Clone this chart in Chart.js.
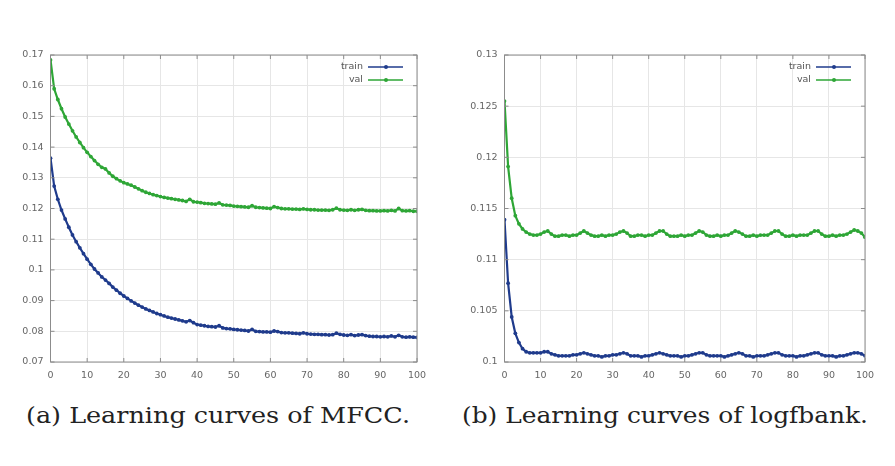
<!DOCTYPE html>
<html>
<head>
<meta charset="utf-8">
<script src="https://cdn.jsdelivr.net/npm/chart.js@4"></script>
<style>
  body { margin: 0; background: #fff; width: 895px; height: 466px; overflow: hidden; position: relative; }
  canvas { position: absolute; }
  .cap { position: absolute; font-family: "DejaVu Serif", serif; font-size: 23px; color: #222; white-space: nowrap; transform-origin: left top; line-height: 1; }
</style>
</head>
<body>
<canvas id="mfcc" width="440" height="350" style="left:0;top:40px"></canvas>
<canvas id="fbank" width="440" height="350" style="left:455px;top:40px"></canvas>
<div class="cap" id="capA" style="left:26px;top:404px">(a) Learning curves of MFCC.</div>
<div class="cap" id="capB" style="left:462px;top:404px">(b) Learning curves of logfbank.</div>
<script>
// epochs 0..100
var epochs = Array.from({ length: 101 }, function (_, i) { return i; });

// (a) MFCC
var trainMfcc = [
  0.1364, 0.1273, 0.1230, 0.1195, 0.1166, 0.1139, 0.1114, 0.1092, 0.1072, 0.1053,
  0.1035, 0.1018, 0.1003, 0.0990, 0.0977, 0.0967, 0.0956, 0.0944, 0.0934, 0.0924,
  0.0915, 0.0907, 0.0899, 0.0892, 0.0885, 0.0879, 0.0873, 0.0868, 0.0863, 0.0858,
  0.0854, 0.0850, 0.0846, 0.0843, 0.0840, 0.0837, 0.0834, 0.0831, 0.0835, 0.0828,
  0.0822, 0.0820, 0.0818, 0.0816, 0.0815, 0.0814, 0.0818, 0.0811, 0.0809, 0.0808,
  0.0806, 0.0805, 0.0804, 0.0803, 0.0801, 0.0806, 0.0800, 0.0799, 0.0798, 0.0798,
  0.0797, 0.0801, 0.0799, 0.0796, 0.0795, 0.0795, 0.0794, 0.0793, 0.0792, 0.0795,
  0.0792, 0.0791, 0.0790, 0.0790, 0.0789, 0.0789, 0.0788, 0.0789, 0.0794, 0.0790,
  0.0788, 0.0787, 0.0789, 0.0786, 0.0788, 0.0789, 0.0786, 0.0784, 0.0783, 0.0783,
  0.0782, 0.0783, 0.0782, 0.0785, 0.0782, 0.0787, 0.0782, 0.0781, 0.0782, 0.0781,
  0.0780
];
var valMfcc = [
  0.1684, 0.1590, 0.1555, 0.1525, 0.1498, 0.1475, 0.1453, 0.1433, 0.1415, 0.1398,
  0.1383, 0.1369, 0.1356, 0.1344, 0.1334, 0.1329, 0.1316, 0.1305, 0.1297, 0.1290,
  0.1284, 0.1280, 0.1276, 0.1270, 0.1264, 0.1258, 0.1253, 0.1249, 0.1245, 0.1242,
  0.1239, 0.1236, 0.1234, 0.1232, 0.1230, 0.1228, 0.1226, 0.1223, 0.1230, 0.1222,
  0.1221, 0.1219, 0.1217, 0.1216, 0.1215, 0.1214, 0.1218, 0.1212, 0.1211, 0.1210,
  0.1208, 0.1207, 0.1206, 0.1205, 0.1204, 0.1209, 0.1204, 0.1203, 0.1202, 0.1201,
  0.1200, 0.1206, 0.1203, 0.1200, 0.1199, 0.1199, 0.1198, 0.1198, 0.1197, 0.1199,
  0.1197, 0.1196, 0.1196, 0.1195, 0.1195, 0.1195, 0.1194, 0.1196, 0.1201, 0.1196,
  0.1195, 0.1194, 0.1196, 0.1194, 0.1196, 0.1197, 0.1194, 0.1193, 0.1193, 0.1192,
  0.1192, 0.1193, 0.1192, 0.1194, 0.1192, 0.1200, 0.1193, 0.1192, 0.1193, 0.1191,
  0.1191
];

// (b) logfbank
var trainFbank = [
  0.1139, 0.1077, 0.1044, 0.1028, 0.1019, 0.1013, 0.1010, 0.1009, 0.1009, 0.1009,
  0.1009, 0.1010, 0.1010, 0.1008, 0.1007, 0.1006, 0.1006, 0.1006, 0.1006, 0.1007,
  0.1007, 0.1008, 0.1009, 0.1008, 0.1007, 0.1006, 0.1006, 0.1005, 0.1006, 0.1006,
  0.1007, 0.1007, 0.1008, 0.1009, 0.1008, 0.1006, 0.1006, 0.1006, 0.1005, 0.1006,
  0.1006, 0.1007, 0.1008, 0.1009, 0.1008, 0.1007, 0.1006, 0.1006, 0.1006, 0.1005,
  0.1006, 0.1006, 0.1007, 0.1008, 0.1009, 0.1009, 0.1007, 0.1006, 0.1006, 0.1006,
  0.1006, 0.1005, 0.1006, 0.1007, 0.1008, 0.1009, 0.1008, 0.1006, 0.1006, 0.1005,
  0.1006, 0.1006, 0.1006, 0.1007, 0.1008, 0.1009, 0.1009, 0.1007, 0.1006, 0.1006,
  0.1006, 0.1005, 0.1006, 0.1006, 0.1007, 0.1008, 0.1009, 0.1009, 0.1007, 0.1006,
  0.1006, 0.1006, 0.1005, 0.1006, 0.1006, 0.1007, 0.1008, 0.1009, 0.1009, 0.1008,
  0.1006
];
var valFbank = [
  0.1255, 0.1191, 0.1160, 0.1143, 0.1135, 0.1130, 0.1127, 0.1125, 0.1124, 0.1124,
  0.1125, 0.1127, 0.1128, 0.1125, 0.1123, 0.1123, 0.1124, 0.1124, 0.1123, 0.1124,
  0.1124, 0.1126, 0.1128, 0.1126, 0.1124, 0.1123, 0.1123, 0.1124, 0.1123, 0.1124,
  0.1124, 0.1125, 0.1127, 0.1128, 0.1126, 0.1123, 0.1123, 0.1124, 0.1124, 0.1123,
  0.1124, 0.1124, 0.1126, 0.1128, 0.1128, 0.1125, 0.1123, 0.1123, 0.1123, 0.1124,
  0.1123, 0.1124, 0.1124, 0.1126, 0.1128, 0.1127, 0.1124, 0.1123, 0.1123, 0.1124,
  0.1123, 0.1124, 0.1124, 0.1126, 0.1128, 0.1127, 0.1125, 0.1123, 0.1123, 0.1124,
  0.1123, 0.1124, 0.1124, 0.1124, 0.1126, 0.1128, 0.1128, 0.1125, 0.1123, 0.1123,
  0.1124, 0.1123, 0.1124, 0.1124, 0.1124, 0.1126, 0.1128, 0.1128, 0.1125, 0.1123,
  0.1123, 0.1124, 0.1123, 0.1124, 0.1124, 0.1125, 0.1127, 0.1129, 0.1128, 0.1126,
  0.1122
];

var seriesNames = ['train', 'val'];
var trainColor = '#1f3b8c';
var valColor = '#2ea636';

function pts(arr) {
  return arr.map(function (v, i) { return { x: epochs[i], y: v }; });
}

// gnuplot-like frame, inward ticks and legend inside the plot
var framePlugin = {
  id: 'frame',
  afterDraw: function (chart) {
    var ctx = chart.ctx, a = chart.chartArea;
    var xs = chart.scales.x, ys = chart.scales.y;
    ctx.save();
    ctx.strokeStyle = '#8c8c8c';
    ctx.lineWidth = 1;
    ctx.strokeRect(a.left, a.top, a.right - a.left, a.bottom - a.top);
    ctx.beginPath();
    xs.ticks.forEach(function (t) {
      var px = xs.getPixelForValue(t.value);
      ctx.moveTo(px, a.bottom); ctx.lineTo(px, a.bottom - 4);
      ctx.moveTo(px, a.top); ctx.lineTo(px, a.top + 4);
    });
    ys.ticks.forEach(function (t) {
      var py = ys.getPixelForValue(t.value);
      ctx.moveTo(a.left, py); ctx.lineTo(a.left + 4, py);
      ctx.moveTo(a.right, py); ctx.lineTo(a.right - 4, py);
    });
    ctx.stroke();

    ctx.font = '9.5px "DejaVu Sans", sans-serif';
    ctx.textAlign = 'right';
    ctx.textBaseline = 'middle';
    chart.data.datasets.forEach(function (ds, i) {
      var yy = a.top + 12 + i * 13;
      ctx.fillStyle = '#555';
      ctx.fillText(ds.label, a.right - 54, yy);
      ctx.strokeStyle = ds.borderColor;
      ctx.lineWidth = 1.5;
      ctx.beginPath();
      ctx.moveTo(a.right - 49, yy); ctx.lineTo(a.right - 14, yy);
      ctx.stroke();
      ctx.fillStyle = ds.borderColor;
      ctx.beginPath();
      ctx.arc(a.right - 31, yy, 2, 0, Math.PI * 2);
      ctx.fill();
    });
    ctx.restore();
  }
};

function makeChart(id, train, val, yMin, yMax, yStep, pad) {
  var ctx = document.getElementById(id).getContext('2d');
  return new Chart(ctx, {
    type: 'line',
    data: {
      datasets: [
        { label: seriesNames[0], data: pts(train), borderColor: trainColor, backgroundColor: trainColor },
        { label: seriesNames[1], data: pts(val), borderColor: valColor, backgroundColor: valColor }
      ]
    },
    options: {
      responsive: false,
      animation: false,
      devicePixelRatio: 1,
      layout: { padding: pad },
      elements: {
        line: { borderWidth: 2.2, tension: 0 },
        point: { radius: 1.9, borderWidth: 0, hoverRadius: 1.9 }
      },
      plugins: { legend: { display: false }, tooltip: { enabled: false } },
      scales: {
        x: {
          type: 'linear', min: 0, max: 100,
          grid: { color: '#e6e6e6', drawTicks: false },
          border: { display: false },
          ticks: { stepSize: 10, padding: 8, color: '#666', font: { family: 'DejaVu Sans', size: 9.5 } },
          afterFit: function (s) { s.height = 20; }
        },
        y: {
          min: yMin, max: yMax,
          grid: { color: '#e6e6e6', drawTicks: false },
          border: { display: false },
          ticks: {
            stepSize: yStep, padding: 7, color: '#666', font: { family: 'DejaVu Sans', size: 9.5 },
            callback: function (v) { return String(Number(v.toFixed(4))); }
          },
          afterFit: function (s) { s.width = 42.5; }
        }
      }
    },
    plugins: [framePlugin]
  });
}

makeChart('mfcc', trainMfcc, valMfcc, 0.07, 0.17, 0.01, { top: 15, left: 8, right: 23, bottom: 8 });
makeChart('fbank', trainFbank, valFbank, 0.1, 0.13, 0.005, { top: 15, left: 7, right: 30, bottom: 8 });

// stretch captions to the printed width
[['capA', 384], ['capB', 406]].forEach(function (c) {
  var el = document.getElementById(c[0]);
  var w = el.getBoundingClientRect().width;
  el.style.transform = 'scaleX(' + (c[1] / w) + ')';
});
</script>
</body>
</html>
